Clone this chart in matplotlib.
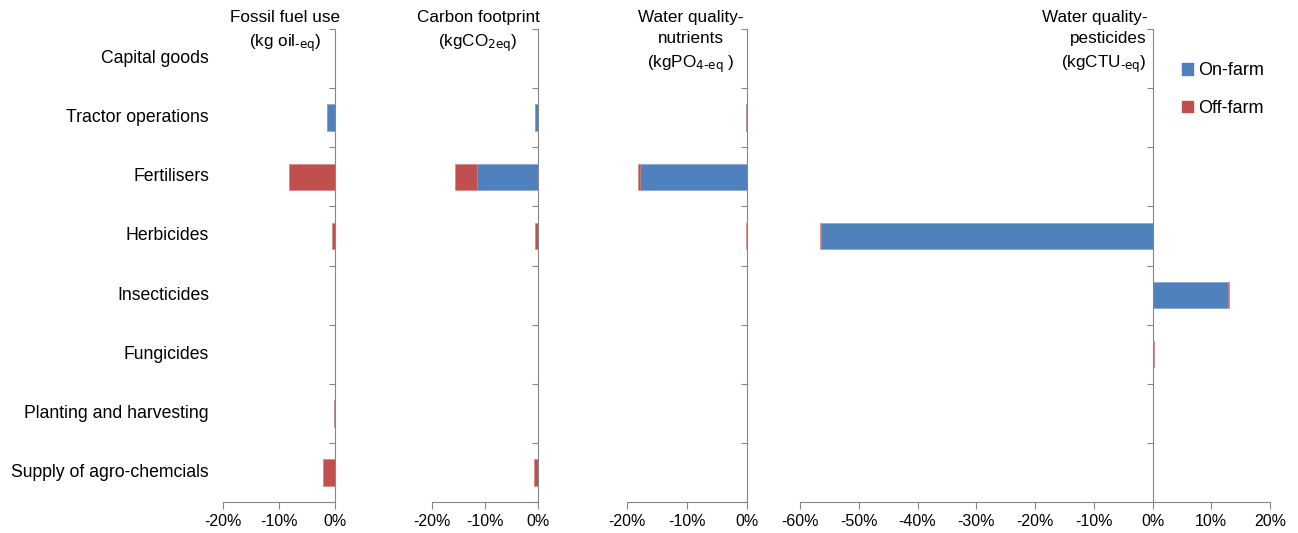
import numpy as np
import matplotlib
matplotlib.use('Agg')
import matplotlib.pyplot as plt
from matplotlib.patches import Patch
from matplotlib.ticker import FuncFormatter, FixedLocator

plt.rcParams['font.family'] = ['Liberation Sans', 'DejaVu Sans']
plt.rcParams['mathtext.default'] = 'regular'

categories = ['Capital goods', 'Tractor operations', 'Fertilisers', 'Herbicides',
              'Insecticides', 'Fungicides', 'Planting and harvesting',
              'Supply of agro-chemcials']

# relative change, % (on-farm / off-farm contributions)
fossil_on = [0, -1.4, 0, 0, 0, 0, -0.25, 0]
fossil_off = [0, 0, -8.3, -0.6, 0, 0, 0, -2.2]
carbon_on = [0, -0.6, -11.6, 0, 0, 0, 0, 0]
carbon_off = [0, 0, -4.0, -0.6, 0, 0, 0, -0.7]
nutr_on = [0, -0.2, -17.8, 0, 0, 0, 0, 0]
nutr_off = [0, 0, -0.3, -0.2, 0, 0, 0, 0]
pest_on = [0, 0, 0, -56.4, 12.9, 0, 0, 0]
pest_off = [0, 0, 0, -0.2, 0.2, 0.3, 0, 0]

titles = ['Fossil fuel use\n' + r'(kg oil$_{\text{-eq}}$)',
          'Carbon footprint\n' + r'(kgCO$_{\text{2eq}}$)',
          'Water quality-\nnutrients\n' + r'(kgPO$_{\text{4-eq}}$ )',
          'Water quality-\npesticides\n' + r'(kgCTU$_{\text{-eq}}$)']
xlims = [(-20, 0), (-20, 0), (-20, 0), (-60, 20)]
series = [(fossil_on, fossil_off), (carbon_on, carbon_off),
          (nutr_on, nutr_off), (pest_on, pest_off)]

# panel extents in pixels (left, right), title anchors and alignment
W, H = 1298, 533
px = [(223, 335), (432, 538), (627, 747), (800, 1270)]
title_x = [285, 478, 691, 1147]
title_ha = ['center', 'center', 'center', 'right']
top, bot = 29, 502

blue = '#4F81BD'
red = '#C0504D'
grey = '#868686'

fig = plt.figure(figsize=(W / 100, H / 100), dpi=100)
y = np.arange(len(categories))

for i, ((l, r), (on, off)) in enumerate(zip(px, series)):
    ax = fig.add_axes([l / W, (H - bot) / H, (r - l) / W, (bot - top) / H])
    on = np.array(on); off = np.array(off)
    ax.barh(y, on, height=0.45, color=blue, edgecolor='#7da2d0', linewidth=0.4)
    ax.barh(y, off, left=on, height=0.45, color=red, edgecolor='#d27c7a', linewidth=0.4)
    ax.set_xlim(*xlims[i])
    ax.set_ylim(len(categories) - 0.5, -0.5)

    for s in ['top', 'right']:
        ax.spines[s].set_visible(False)
    ax.spines['left'].set_position(('data', 0))
    ax.spines['left'].set_color(grey)
    ax.spines['bottom'].set_color(grey)

    ax.yaxis.set_major_locator(FixedLocator(np.arange(-0.5, len(categories), 1)))
    ax.tick_params(axis='y', direction='out', length=4, color=grey, labelleft=False)
    ax.xaxis.set_major_locator(FixedLocator(np.arange(xlims[i][0], xlims[i][1] + 1, 10)))
    ax.xaxis.set_major_formatter(FuncFormatter(lambda v, p: f'{v:.0f}%'))
    ax.tick_params(axis='x', direction='out', length=5, color=grey, labelsize=11.5, pad=4)

    if i == 0:
        for yy, c in zip(y, categories):
            ax.text(-0.125, yy, c, transform=ax.get_yaxis_transform(),
                    ha='right', va='center', fontsize=12.7)

    fig.text(title_x[i] / W, 1 - 10 / H, titles[i], ha=title_ha[i], va='top',
             multialignment=title_ha[i], fontsize=12.3, linespacing=1.5)

handles = [Patch(color=blue, label='On-farm'), Patch(color=red, label='Off-farm')]
fig.legend(handles=handles, loc='upper left', bbox_to_anchor=(1166 / W, 1 - 46 / H),
           frameon=False, fontsize=13, handlelength=0.6, handleheight=0.6,
           handletextpad=0.3, labelspacing=1.14)

fig.savefig('out.png', dpi=100)
